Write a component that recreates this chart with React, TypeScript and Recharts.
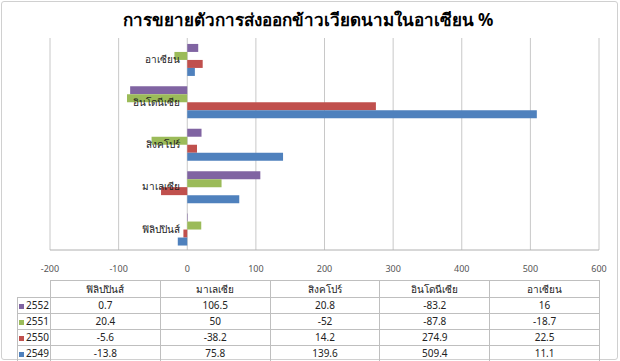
import { BarChart, Bar, XAxis, YAxis, CartesianGrid } from "recharts";

const countries = ["ฟิลิปปินส์", "มาเลเซีย", "สิงคโปร์", "อินโดนีเซีย", "อาเซียน"];
const y2552 = [0.7, 106.5, 20.8, -83.2, 16];
const y2551 = [20.4, 50, -52, -87.8, -18.7];
const y2550 = [-5.6, -38.2, 14.2, 274.9, 22.5];
const y2549 = [-13.8, 75.8, 139.6, 509.4, 11.1];
const xTicks = [-200, -100, 0, 100, 200, 300, 400, 500, 600];

const SERIES = [
  { key: "2552", values: y2552, color: "#8064A2" },
  { key: "2551", values: y2551, color: "#9BBB59" },
  { key: "2550", values: y2550, color: "#C0504D" },
  { key: "2549", values: y2549, color: "#4F81BD" },
];

const FONT = "Tahoma, 'Noto Sans', 'DejaVu Sans', sans-serif";
const W = 620;
const H = 280;
const M = { top: 38, right: 21, left: 49, bottom: 0 };
const DOMAIN: [number, number] = [-200, 600];
const PLOT_LEFT = 50;
const PLOT_W = W - PLOT_LEFT - M.right;
const ZERO_X = PLOT_LEFT + ((0 - DOMAIN[0]) / (DOMAIN[1] - DOMAIN[0])) * PLOT_W;

// excel order: last category on top
const chartData = countries
  .map((name, i) => {
    const row: Record<string, string | number> = { name };
    SERIES.forEach((s) => (row[s.key] = s.values[i]));
    return row;
  })
  .reverse();

const CategoryTick = (props: any) => (
  <text x={ZERO_X - 7} y={props.y} dy={4} textAnchor="end" fontSize={10} fill="#222" fontFamily={FONT}>
    {props.payload?.value}
  </text>
);

const cell: React.CSSProperties = {
  border: "1px solid #bfbfbf",
  padding: 0,
  textAlign: "center",
  height: 15,
  lineHeight: "13px",
  whiteSpace: "nowrap",
  overflow: "hidden",
};

export default function App() {
  return (
    <div style={{ position: "relative", width: W, height: 361, background: "#fff", fontFamily: FONT }}>
      <style>{`body{margin:0}`}</style>
      <div
        style={{
          position: "absolute",
          left: 1,
          top: 1,
          width: 615,
          height: 357,
          border: "1px solid #d0d0d0",
          borderRadius: 3,
        }}
      />
      <div
        style={{
          position: "absolute",
          top: 6,
          left: 0,
          width: W - 4,
          textAlign: "center",
          fontSize: 17,
          fontWeight: "bold",
          color: "#000",
        }}
      >
        การขยายตัวการส่งออกข้าวเวียดนามในอาเซียน %
      </div>
      <div style={{ position: "absolute", top: 0, left: 0 }}>
        <BarChart
          width={W}
          height={H}
          data={chartData}
          layout="vertical"
          margin={M}
          barCategoryGap="14%"
          barGap={0}
        >
          <CartesianGrid horizontal={false} stroke="#c8c8c8" />
          <XAxis
            type="number"
            domain={DOMAIN}
            ticks={xTicks}
            interval={0}
            height={30}
            axisLine={{ stroke: "#b0b0b0" }}
            tickLine={false}
            tickMargin={10}
            tick={{ fontSize: 9, fill: "#555", fontFamily: FONT }}
          />
          {SERIES.map((s) => (
            <Bar key={s.key} dataKey={s.key} fill={s.color} isAnimationActive={false} />
          ))}
          <YAxis
            type="category"
            dataKey="name"
            width={1}
            axisLine={false}
            tickLine={false}
            interval={0}
            tick={CategoryTick}
          />
        </BarChart>
      </div>
      <table
        style={{
          position: "absolute",
          top: 280,
          left: 17,
          borderCollapse: "collapse",
          fontSize: 10,
          color: "#222",
          tableLayout: "fixed",
        }}
      >
        <colgroup>
          <col style={{ width: 33 }} />
          {countries.map((c) => (
            <col key={c} style={{ width: PLOT_W / countries.length }} />
          ))}
        </colgroup>
        <thead>
          <tr>
            <th style={{ ...cell, border: "none", borderRight: "1px solid #bfbfbf", height: 16 }} />
            {countries.map((c) => (
              <th key={c} style={{ ...cell, fontWeight: "normal", height: 16 }}>
                {c}
              </th>
            ))}
          </tr>
        </thead>
        <tbody>
          {SERIES.map((s) => (
            <tr key={s.key}>
              <td style={{ ...cell, textAlign: "left", paddingLeft: 1, fontSize: 10 }}>
                <span
                  style={{
                    display: "inline-block",
                    width: 5,
                    height: 5,
                    background: s.color,
                    marginRight: 2,
                  }}
                />
                {s.key}
              </td>
              {s.values.map((v, i) => (
                <td key={i} style={cell}>
                  {v}
                </td>
              ))}
            </tr>
          ))}
        </tbody>
      </table>
    </div>
  );
}
